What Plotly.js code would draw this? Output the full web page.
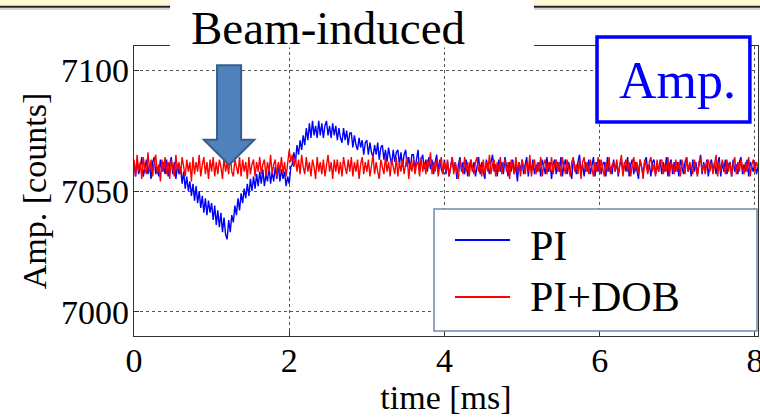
<!DOCTYPE html>
<html>
<head>
<meta charset="utf-8">
<script src="https://cdn.plot.ly/plotly-3.0.1.min.js"></script>
<style>html,body{margin:0;padding:0;background:#fff;}#chart{width:760px;height:417px;}</style>
</head>
<body>
<div id="chart"></div>
<script>
// ---- data ----
const T0 = 0;          // first sample time [ms]
const DT = 0.02;       // sample spacing [ms]
const seriesNames = ["PI", "PI+DOB"];
const xTickVals = [0, 2, 4, 6, 8];
const yTickVals = [7000, 7050, 7100];

const ampPI = [
7062,7056,7063,7057,7060,7064,7056,7059,7063,7057,
7061,7055,7062,7064,7057,7060,7056,7063,7058,7062,
7057,7063,7056,7061,7064,7057,7062,7055,7061,7057,
7060,7053,7058,7051,7056,7050,7054,7048,7053,7046,
7052,7045,7050,7043,7048,7041,7047,7040,7046,7041,
7045,7038,7044,7036,7042,7035,7041,7033,7039,7032,
7030,7038,7033,7040,7037,7044,7040,7047,7042,7049,
7045,7051,7047,7053,7048,7055,7050,7056,7051,7057,
7052,7058,7053,7059,7052,7057,7054,7060,7053,7058,
7054,7060,7055,7061,7054,7059,7055,7058,7052,7056,
7053,7060,7061,7066,7062,7069,7065,7071,7067,7073,
7069,7076,7071,7078,7072,7079,7073,7077,7072,7079,
7073,7078,7072,7077,7079,7073,7077,7072,7078,7073,
7077,7071,7076,7072,7070,7076,7071,7075,7069,7074,
7074,7068,7073,7069,7067,7072,7068,7071,7065,7070,
7071,7065,7070,7066,7064,7069,7065,7070,7063,7068,
7069,7063,7067,7062,7068,7064,7061,7067,7062,7066,
7067,7061,7066,7060,7065,7067,7060,7064,7059,7065,
7065,7059,7064,7067,7058,7063,7065,7059,7063,7058,
7064,7059,7063,7057,7062,7065,7058,7063,7059,7057,
7063,7057,7062,7056,7060,7064,7058,7062,7055,7061,
7064,7058,7062,7057,7063,7056,7060,7063,7058,7062,
7056,7061,7064,7057,7062,7058,7055,7063,7060,7057,
7062,7065,7058,7061,7056,7063,7058,7062,7057,7064,
7060,7056,7062,7058,7063,7057,7061,7054,7062,7058,
7063,7057,7061,7064,7056,7062,7058,7063,7057,7061,
7058,7062,7056,7063,7060,7057,7064,7058,7062,7055,
7061,7063,7057,7062,7058,7064,7056,7061,7063,7057,
7062,7058,7055,7063,7060,7057,7062,7065,7058,7061,
7056,7062,7058,7063,7057,7061,7064,7056,7062,7058,
7063,7057,7061,7062,7056,7064,7058,7060,7057,7063,
7058,7062,7056,7061,7063,7057,7062,7058,7064,7056,
7061,7063,7057,7062,7058,7055,7063,7060,7057,7062,
7064,7058,7061,7056,7062,7063,7057,7061,7058,7063,
7057,7062,7058,7064,7056,7061,7063,7057,7062,7058,
7062,7056,7063,7060,7057,7062,7064,7058,7061,7056,
7063,7058,7062,7057,7061,7065,7057,7062,7058,7063,
7056,7061,7063,7058,7062,7057,7061,7064,7056,7062,
7058,7063,7057,7061,7062,7056,7063,7058,7061,7057,
7062,7064,7057,7061,7058,7063,7056,7062,7060,7058,
7062,7057,7060
];

const ampPIDOB = [
7063,7056,7065,7058,7062,7055,7064,7059,7057,7066,
7058,7063,7056,7062,7065,7057,7061,7054,7063,7058,
7064,7057,7062,7055,7063,7060,7056,7065,7058,7062,
7057,7064,7060,7056,7063,7058,7062,7054,7064,7057,
7062,7058,7065,7056,7061,7064,7057,7062,7055,7063,
7058,7064,7056,7062,7057,7063,7060,7055,7064,7058,
7062,7057,7065,7058,7056,7063,7060,7057,7064,7056,
7063,7058,7062,7055,7064,7057,7061,7063,7056,7062,
7058,7064,7057,7061,7063,7056,7062,7058,7065,7057,
7061,7063,7056,7062,7058,7064,7057,7062,7056,7063,
7067,7062,7065,7060,7064,7058,7063,7057,7065,7060,
7057,7064,7058,7062,7056,7063,7060,7055,7064,7058,
7062,7057,7063,7056,7061,7065,7058,7062,7055,7063,
7058,7063,7057,7062,7056,7064,7060,7057,7063,7058,
7064,7056,7062,7058,7063,7055,7061,7064,7057,7062,
7058,7063,7056,7061,7065,7057,7062,7058,7055,7063,
7060,7057,7064,7058,7062,7056,7063,7060,7057,7064,
7056,7062,7058,7063,7057,7061,7064,7055,7062,7058,
7063,7057,7061,7062,7056,7064,7058,7062,7057,7063,
7060,7066,7057,7062,7058,7063,7056,7061,7064,7057,
7062,7058,7063,7056,7061,7064,7057,7062,7058,7055,
7063,7060,7057,7064,7058,7062,7056,7063,7060,7057,
7062,7064,7058,7061,7056,7063,7057,7062,7058,7065,
7057,7061,7063,7056,7062,7058,7064,7057,7061,7063,
7058,7062,7055,7063,7060,7057,7064,7058,7062,7056,
7063,7060,7057,7062,7058,7065,7056,7061,7063,7057,
7062,7058,7064,7056,7061,7063,7057,7062,7058,7064,
7057,7061,7063,7058,7062,7056,7064,7060,7057,7063,
7060,7056,7062,7064,7058,7061,7057,7063,7055,7062,
7064,7058,7062,7057,7063,7060,7056,7062,7058,7064,
7057,7063,7060,7056,7062,7058,7064,7057,7061,7062,
7058,7063,7057,7062,7065,7056,7061,7063,7058,7062,
7056,7061,7064,7058,7062,7057,7063,7060,7055,7063,
7060,7057,7062,7064,7058,7061,7056,7063,7058,7062,
7063,7057,7061,7058,7064,7056,7062,7060,7057,7063,
7058,7062,7056,7063,7060,7057,7064,7058,7062,7060,
7057,7063,7060,7056,7062,7064,7058,7061,7057,7062,
7063,7058,7062,7057,7061,7065,7056,7062,7058,7063,
7060,7057,7063,7058,7062,7056,7061,7064,7057,7062,
7058,7063,7060,7057,7062,7058,7064,7056,7061,7063,
7058,7062,7060
];

// ---- chart ----
const FONT = "Liberation Serif, Times New Roman, serif";
const colors = ["#0000ff", "#ff0000"];

const traces = [
  {type: "scatter", mode: "lines", name: seriesNames[0], x0: T0, dx: DT, y: ampPI,
   line: {color: colors[0], width: 1.4}, showlegend: false},
  {type: "scatter", mode: "lines", name: seriesNames[1], x0: T0, dx: DT, y: ampPIDOB,
   line: {color: colors[1], width: 1.4}, showlegend: false}
];

// arrow (annotation graphic), in data units
const arrowPath = "M1.07,7102 L1.38,7102 L1.38,7071.2 L1.55,7071.2 L1.226,7060.8 L0.90,7071.2 L1.07,7071.2 Z";

// legend drawn as a framed box (paper units)
const LEG = {x0: 0.4808, x1: 0.9984, y0: 0.0172, y1: 0.4379,
             lineX0: 0.5144, lineX1: 0.6026, textX: 0.6314,
             rows: [0.331, 0.1345], textRows: [0.3103, 0.1328]};

const shapes = [
  // slide header band
  {type: "rect", xref: "paper", yref: "paper", x0: -0.22, x1: 1.01, y0: 1.138, y1: 1.17,
   fillcolor: "#fdf9d2", line: {width: 0}, layer: "above"},
  {type: "line", xref: "paper", yref: "paper", x0: -0.22, x1: 1.01, y0: 1.135, y1: 1.135,
   line: {color: "#222", width: 2}, layer: "above"},
  {type: "line", xref: "paper", yref: "paper", x0: -0.22, x1: 1.01, y0: 1.128, y1: 1.128,
   line: {color: "#c8c8c8", width: 1.5}, layer: "above"},
  // "Beam-induced" white box
  {type: "rect", xref: "paper", yref: "paper", x0: 0.0577, x1: 0.641, y0: 0.995, y1: 1.17,
   fillcolor: "#ffffff", line: {width: 0}, layer: "above"},
  // "Amp." blue box
  {type: "rect", xref: "paper", yref: "paper", x0: 0.742, x1: 0.987, y0: 0.738, y1: 1.031,
   fillcolor: "#ffffff", line: {color: "#0000ff", width: 3.5}, layer: "above"},
  // arrow
  {type: "path", xref: "x", yref: "y", path: arrowPath,
   fillcolor: "#4f81bd", line: {color: "#385d8a", width: 2}, layer: "above"},
  // legend frame
  {type: "rect", xref: "paper", yref: "paper", x0: LEG.x0, x1: LEG.x1, y0: LEG.y0, y1: LEG.y1,
   fillcolor: "#ffffff", line: {color: "#7089aa", width: 1.5}, layer: "above"}
];
const annotations = [
  {text: "Beam-induced", xref: "paper", yref: "paper", x: 0.311, y: 1.062,
   xanchor: "center", yanchor: "middle", showarrow: false,
   font: {family: FONT, size: 47, color: "#000"}},
  {text: "Amp.", xref: "paper", yref: "paper", x: 0.871, y: 0.882,
   xanchor: "center", yanchor: "middle", showarrow: false,
   font: {family: FONT, size: 52, color: "#0000ff"}}
];
seriesNames.forEach((nm, i) => {
  shapes.push({type: "line", xref: "paper", yref: "paper",
    x0: LEG.lineX0, x1: LEG.lineX1, y0: LEG.rows[i], y1: LEG.rows[i],
    line: {color: colors[i], width: 2}, layer: "above"});
  annotations.push({text: nm, xref: "paper", yref: "paper", x: LEG.textX, y: LEG.textRows[i],
    xanchor: "left", yanchor: "middle", showarrow: false,
    font: {family: FONT, size: 42, color: "#000"}});
});

const layout = {
  width: 760, height: 417,
  margin: {l: 134, r: 2, t: 46, b: 81},
  paper_bgcolor: "#ffffff", plot_bgcolor: "#ffffff",
  font: {family: FONT, color: "#000", size: 34},
  showlegend: false,
  xaxis: {
    range: [0, 8.04], tickvals: xTickVals, ticktext: xTickVals.map(String),
    showline: true, mirror: true, linecolor: "#333", linewidth: 1.3,
    ticks: "inside", ticklen: 5, tickcolor: "#333",
    showgrid: true, gridcolor: "#555", griddash: "dot", gridwidth: 1,
    zeroline: false, ticklabeloverflow: "allow", ticklabelstandoff: -6,
    tickfont: {family: FONT, size: 34},
    title: {text: "time [ms]", font: {family: FONT, size: 34}, standoff: 0}
  },
  yaxis: {
    range: [6990, 7110], tickvals: yTickVals, ticktext: yTickVals.map(String),
    showline: true, mirror: true, linecolor: "#333", linewidth: 1.3,
    ticks: "inside", ticklen: 5, tickcolor: "#333",
    showgrid: true, gridcolor: "#555", griddash: "dot", gridwidth: 1,
    zeroline: false, ticklabelstandoff: -3,
    tickfont: {family: FONT, size: 34},
    title: {text: "Amp. [counts]", font: {family: FONT, size: 34}, standoff: 4}
  },
  shapes: shapes,
  annotations: annotations
};

Plotly.newPlot("chart", traces, layout, {displayModeBar: false, staticPlot: true});
</script>
</body>
</html>
